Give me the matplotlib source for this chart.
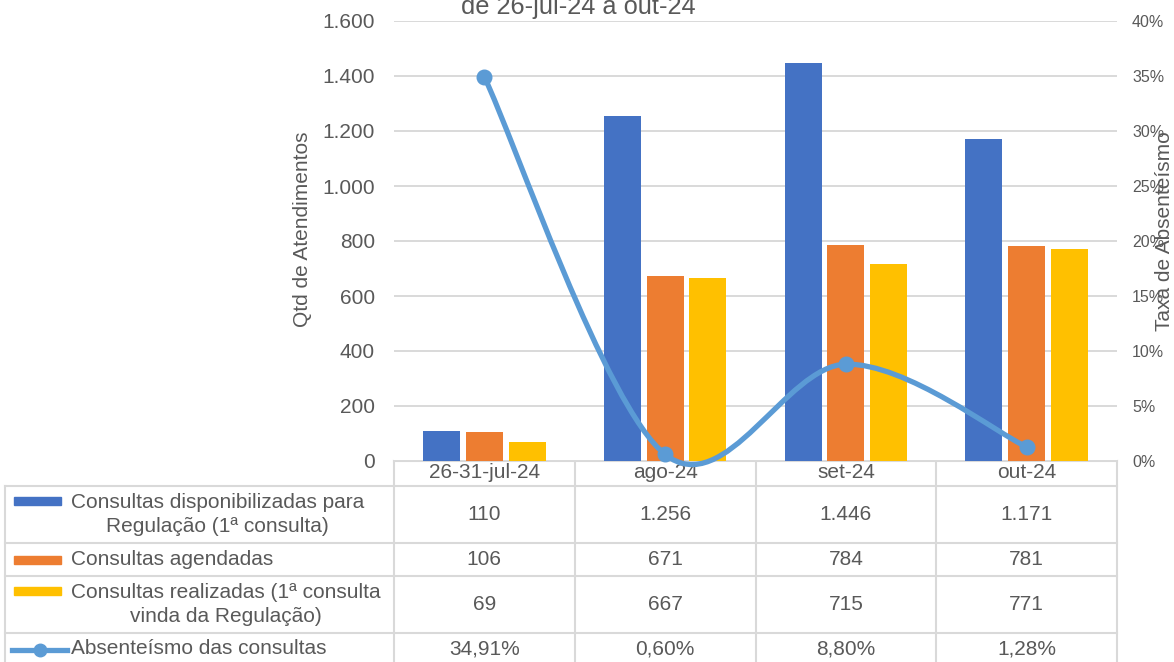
import matplotlib
matplotlib.use("Agg")
import matplotlib.pyplot as plt
from matplotlib.path import Path
from matplotlib.patches import PathPatch, Rectangle
from matplotlib.lines import Line2D
import matplotlib.transforms as mtransforms
import numpy as np

# ---------------- data ----------------
categories = ["26-31-jul-24", "ago-24", "set-24", "out-24"]
disponibilizadas = [110, 1256, 1446, 1171]
agendadas = [106, 671, 784, 781]
realizadas = [69, 667, 715, 771]
absenteismo = [34.91, 0.60, 8.80, 1.28]  # percent

series_names = [
    "Consultas disponibilizadas para\nRegulação (1ª consulta)",
    "Consultas agendadas",
    "Consultas realizadas (1ª consulta\nvinda da Regulação)",
]
line_name = "Absenteísmo das consultas"
title_text = "de 26-jul-24 a out-24"
left_ticks = [0, 200, 400, 600, 800, 1000, 1200, 1400, 1600]
right_ticks = [0, 5, 10, 15, 20, 25, 30, 35, 40]

# ---------------- style ----------------
W, H = 1174, 662
TXT = "#595959"
GRID = "#D9D9D9"
bar_colors = ["#4472C4", "#ED7D31", "#FFC000"]
line_color = "#5B9BD5"
plt.rcParams["font.family"] = ["Liberation Sans", "DejaVu Sans"]

fig = plt.figure(figsize=(W / 100, H / 100), dpi=100)
fig.patch.set_facecolor("white")

ax_l, ax_r, ax_t, ax_b = 394, 1117, 21, 461
ax = fig.add_axes([ax_l / W, (H - ax_b) / H, (ax_r - ax_l) / W, (ax_b - ax_t) / H])

x = np.arange(len(categories))
bw = 0.205
step = 0.237
for k, (vals, col) in enumerate(zip([disponibilizadas, agendadas, realizadas], bar_colors)):
    ax.bar(x + (k - 1) * step, vals, width=bw, color=col, zorder=3)

ax.set_xlim(-0.5, len(categories) - 0.5)
ax.set_ylim(0, 1600)
ax.set_yticks(left_ticks)
ax.set_yticklabels([f"{v:,}".replace(",", ".") for v in left_ticks])
ax.set_xticks([])
ax.yaxis.grid(True, color=GRID, lw=1.4, zorder=0)
ax.set_axisbelow(True)
for s in ax.spines.values():
    s.set_visible(False)
ax.tick_params(axis="y", length=0, pad=13.7, labelsize=15, labelcolor=TXT)

# secondary axis
ax2 = ax.twinx()
ax2.set_ylim(0, 40)
ax2.set_yticks(right_ticks)
ax2.set_yticklabels([f"{v}%" for v in right_ticks])
for s in ax2.spines.values():
    s.set_visible(False)
ax2.tick_params(axis="y", length=0, pad=10.8, labelsize=11.5, labelcolor=TXT)

# axis titles
fig.text(303 / W, 1 - 229 / H, "Qtd de Atendimentos", rotation=90, ha="center", va="center",
         fontsize=15, color=TXT)
fig.text(1164 / W, 1 - 231 / H, "Taxa de Absenteísmo", rotation=90, ha="center", va="center",
         fontsize=15, color=TXT)

# smoothed line (Bezier path through the data points, Excel-like)
pts = list(zip(x.astype(float), absenteismo))
verts = [pts[0]]
codes = [Path.MOVETO]
n = len(pts)
for i in range(n - 1):
    p0 = np.array(pts[max(i - 1, 0)])
    p1 = np.array(pts[i])
    p2 = np.array(pts[i + 1])
    p3 = np.array(pts[min(i + 2, n - 1)])
    c1 = p1 + (p2 - p0) / 6.0
    c2 = p2 - (p3 - p1) / 6.0
    verts += [tuple(c1), tuple(c2), tuple(p2)]
    codes += [Path.CURVE4] * 3
ax2.add_patch(PathPatch(Path(verts, codes), fill=False, edgecolor=line_color,
                        lw=3.8, capstyle="round", joinstyle="round", zorder=4, clip_on=False))
ax2.plot(x, absenteismo, "o", color=line_color, ms=10.5, zorder=5, clip_on=False)

# title (partially cut at top, as in the reference)
fig.text(578 / W, 1 - 14 / H, title_text, ha="center", va="baseline", fontsize=18.3, color=TXT)

# ---------------- data table ----------------
ov = fig.add_axes([0, 0, 1, 1], zorder=-1)
ov.set_xlim(0, W)
ov.set_ylim(H, 0)
ov.axis("off")
blend = mtransforms.blended_transform_factory(ax.transData, ov.transData)

col_edges = [ax_l + (ax_r - ax_l) * i / len(categories) for i in range(len(categories) + 1)]
tbl_left = 5
row_lines = [486, 543, 576, 633]
bottom = H + 5
lw_t = 1.5
ov.add_line(Line2D([ax_l, ax_r], [ax_b, ax_b], color=GRID, lw=lw_t))
for yl in row_lines:
    ov.add_line(Line2D([tbl_left, ax_r], [yl, yl], color=GRID, lw=lw_t))
ov.add_line(Line2D([tbl_left, tbl_left], [row_lines[0], bottom], color=GRID, lw=lw_t))
for xe in col_edges:
    ov.add_line(Line2D([xe, xe], [ax_b, bottom], color=GRID, lw=lw_t))

for i, c in enumerate(categories):
    ov.text(i, 473, c, transform=blend, ha="center", va="center", fontsize=15, color=TXT)

row_centers = [514.5, 559.5, 604.5, 649]
key_y = [501, 560, 591, 650]
all_rows = [disponibilizadas, agendadas, realizadas]
for r, (name, vals, col) in enumerate(zip(series_names, all_rows, bar_colors)):
    ov.add_patch(Rectangle((14, key_y[r] - 4), 47, 8, color=col))
    ov.text(71, row_centers[r], name, ha="left", va="center", multialignment="center",
            fontsize=15, color=TXT, linespacing=1.3)
    for i, v in enumerate(vals):
        ov.text(i, row_centers[r], f"{v:,}".replace(",", "."), transform=blend,
                ha="center", va="center", fontsize=15, color=TXT)

ov.add_line(Line2D([12, 67], [key_y[3], key_y[3]], color=line_color, lw=3.8))
ov.plot([39.5], [key_y[3]], "o", color=line_color, ms=9)
ov.text(71, row_centers[3], line_name, ha="left", va="center", fontsize=15, color=TXT)
for i, v in enumerate(absenteismo):
    ov.text(i, row_centers[3], f"{v:.2f}%".replace(".", ","), transform=blend,
            ha="center", va="center", fontsize=15, color=TXT)

fig.savefig("out.png", dpi=100, facecolor="white")
